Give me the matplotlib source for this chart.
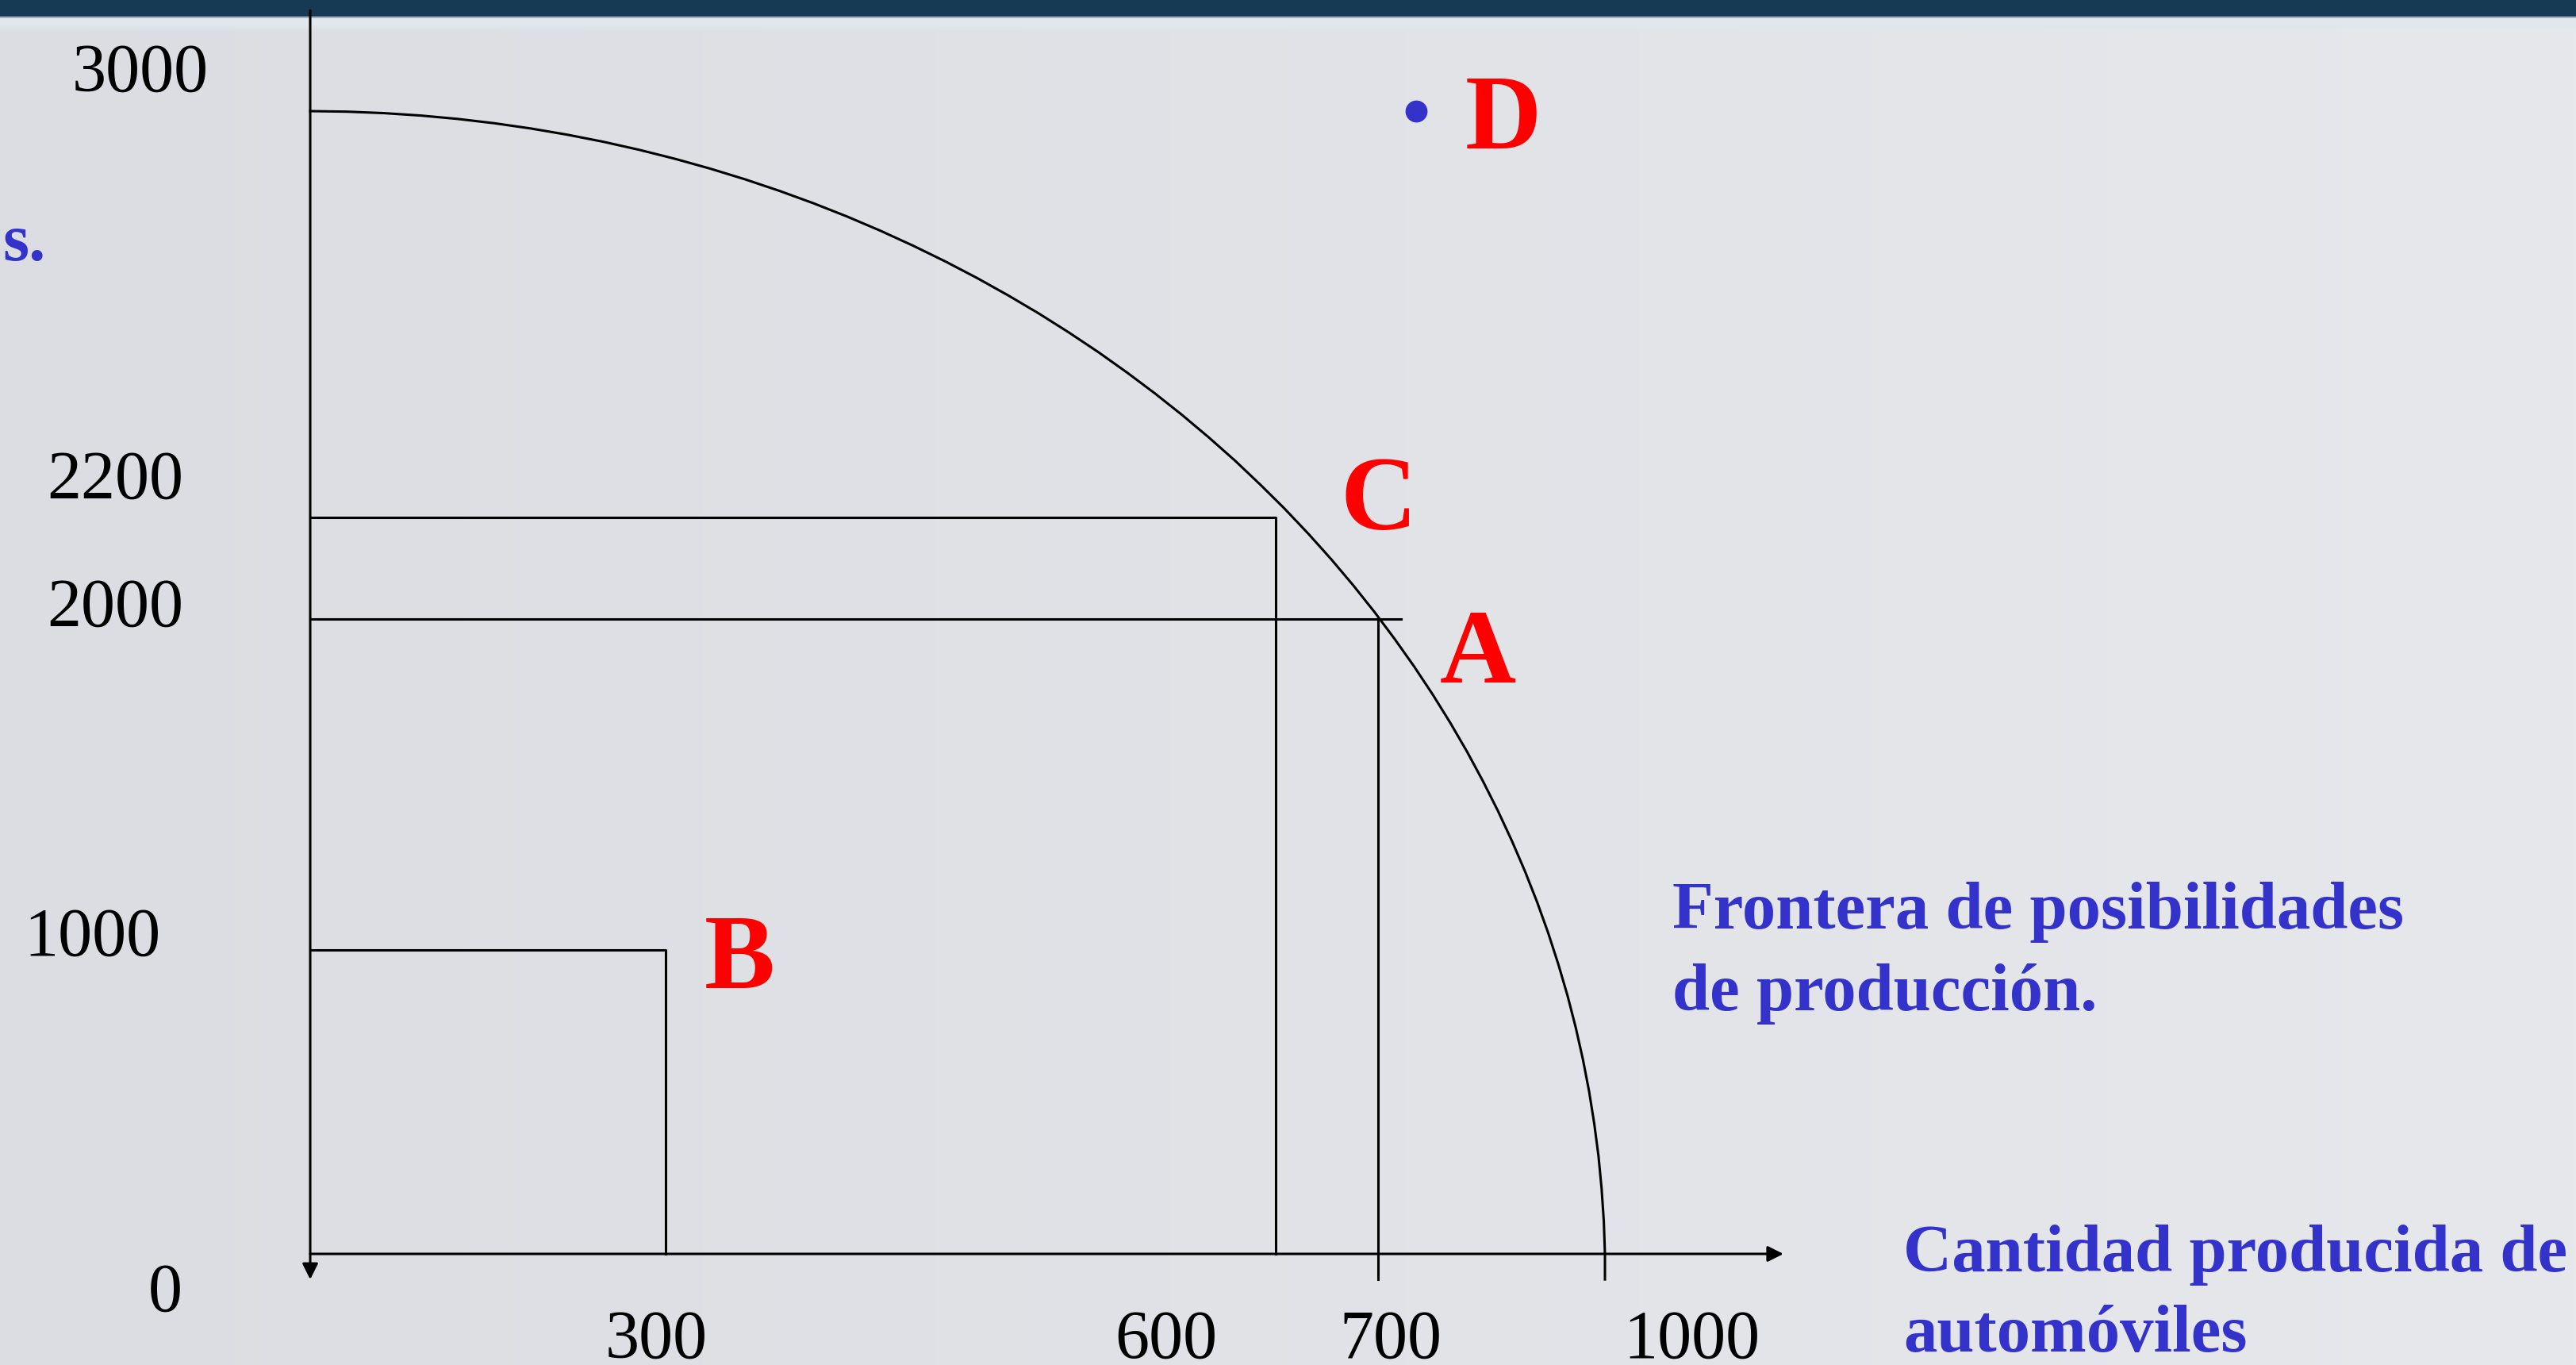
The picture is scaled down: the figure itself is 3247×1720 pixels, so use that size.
import numpy as np
import matplotlib
matplotlib.use("Agg")
import matplotlib.pyplot as plt

# ---------------- data ----------------
frontier_cars = [0.0, 31.2, 62.4, 93.5, 124.5, 155.5, 186.2, 216.9, 247.3, 277.5,
                 304.4, 321.7, 338.9, 355.8, 372.6, 389.2, 405.5, 421.6, 437.5, 453.1,
                 468.4, 483.5, 498.2, 512.7, 526.8, 540.6, 554.1, 567.2, 580.0, 592.3,
                 608.7, 631.8, 654.1, 675.6, 696.3, 721.8, 747.6, 772.2, 795.6, 817.8,
                 838.7, 858.5, 877.0, 894.3, 910.3, 925.0, 938.4, 950.6, 961.4, 970.9,
                 979.1, 985.9, 991.5, 995.6, 998.5, 1000.0, 1000.0]
frontier_units = [3000.0, 2998.9, 2996.0, 2991.2, 2984.6, 2976.1, 2965.8, 2953.6, 2939.7, 2923.9,
                  2906.3, 2887.0, 2865.9, 2843.2, 2818.7, 2792.5, 2764.7, 2735.2, 2704.1, 2671.5,
                  2637.3, 2601.6, 2564.4, 2525.7, 2485.6, 2444.2, 2401.3, 2357.2, 2311.8, 2265.1,
                  2217.2, 2168.1, 2118.0, 2066.7, 2014.4, 1940.2, 1856.9, 1772.1, 1686.0, 1598.6,
                  1510.0, 1420.3, 1329.4, 1237.6, 1144.8, 1051.1, 952.7, 849.0, 744.6, 639.6,
                  534.0, 427.8, 321.3, 214.4, 107.3, 0.0, -84.0]

point_labels = ["A", "B", "C", "D"]
point_cars = [700, 300, 600, 750]
point_units = [2000, 1000, 2200, 3000]

y_tick_labels = ["3000", "2200", "2000", "1000", "0"]
x_tick_labels = ["300", "600", "700", "1000"]

frontier_label = ["Frontera de posibilidades", "de producción."]
x_axis_label = ["Cantidad producida de", "automóviles"]
y_axis_fragment = "s."

# ---------------- layout / style ----------------
W, H, DPI = 3247, 1720, 100
BLUE = "#3333cc"
RED = "#ff0000"
SERIF = ["Liberation Serif", "DejaVu Serif"]
LW = 2.2

# schematic (non-proportional) axes of the slide: piecewise-linear scale
X_DATA = [-1000, 0, 300, 600, 700, 1000, 3000]
X_PIX = [-1493.3, 0, 448, 1217, 1346, 1632, 3538.7]
Y_DATA = [-1000, 0, 1000, 2000, 2200, 3000, 5000]
Y_PIX = [-383, 0, 383, 800, 928, 1440, 2720]


def fx(v):
    return np.interp(v, X_DATA, X_PIX)


def ifx(p):
    return np.interp(p, X_PIX, X_DATA)


def fy(v):
    return np.interp(v, Y_DATA, Y_PIX)


def ify(p):
    return np.interp(p, Y_PIX, Y_DATA)


fig = plt.figure(figsize=(W / DPI, H / DPI), dpi=DPI)

# ---------------- slide background ----------------
xs = np.linspace(0, 1, W)
left = np.array([220, 221, 226]) / 255
right = np.array([231, 232, 236]) / 255
row = left[None, :] * (1 - xs[:, None]) + right[None, :] * xs[:, None]
bg = np.repeat(row[None, :, :], H, axis=0)
dark = np.array([22, 57, 84]) / 255
light = np.array([224, 231, 237]) / 255
bg[:20] = dark
for i, t in enumerate([0.3, 0.55, 0.8]):
    bg[20 + i] = dark * (1 - t) + light * t
bg[23:31] = light
for i in range(31, 40):
    t = (i - 31) / 9
    bg[i] = light[None, :] * (1 - t) + row * t
bgax = fig.add_axes([0, 0, 1, 1])
bgax.imshow(bg, aspect="auto", interpolation="nearest", extent=(0, W, H, 0))
bgax.axis("off")

# ---------------- main axes ----------------
ax = fig.add_axes([0, 0, 1, 1])
ax.set_facecolor("none")
ax.set_xscale("function", functions=(fx, ifx))
ax.set_yscale("function", functions=(fy, ify))
ax.set_xlim(ifx(-391), ifx(W - 391))
ax.set_ylim(ify(-(H - 1580)), ify(1580))
ax.axis("off")

# axes with arrows
arrow_kw = dict(arrowstyle="-|>", lw=LW, color="black", mutation_scale=30,
                shrinkA=0, shrinkB=0)
ax.annotate("", xy=(1236, 0), xytext=(0, 0), arrowprops=arrow_kw)
ax.annotate("", xy=(0, -84), xytext=(0, 3198), arrowprops=arrow_kw)

# frontier
ax.plot(frontier_cars, frontier_units, color="black", lw=LW, solid_joinstyle="round")

# guide lines for A, B, C
a_x, b_x, c_x = point_cars[0], point_cars[1], point_cars[2]
a_y, b_y, c_y = point_units[0], point_units[1], point_units[2]
ax.plot([0, b_x, b_x], [b_y, b_y, 0], color="black", lw=LW)
ax.plot([0, c_x, c_x], [c_y, c_y, 0], color="black", lw=LW)
ax.plot([0, 730], [a_y, a_y], color="black", lw=LW)
ax.plot([a_x, a_x], [a_y, -84], color="black", lw=LW)

# point D (outside the frontier)
ax.plot([point_cars[3]], [point_units[3]], "o", ms=20, color=BLUE, mec="none")


def ftext(x, y, s, **kw):
    fig.text(x / W, 1 - y / H, s, **kw)


# tick labels
y_lab_pos = [(177, 115), (145, 628), (145, 789), (116, 1204), (208, 1652)]
for s, (x, y) in zip(y_tick_labels, y_lab_pos):
    ftext(x, y, s, ha="center", va="baseline", fontsize=62, family=SERIF, color="black")
x_lab_pos = [(827, 1711), (1470, 1711), (1753, 1711), (2132, 1711)]
for s, (x, y) in zip(x_tick_labels, x_lab_pos):
    ftext(x, y, s, ha="center", va="baseline", fontsize=62, family=SERIF, color="black")

# red point letters
letter_pos = {"A": (1863, 860), "B": (932, 1245), "C": (1738, 667), "D": (1895, 187)}
for s in point_labels:
    x, y = letter_pos[s]
    ftext(x, y, s, ha="center", va="baseline", fontsize=96, family=SERIF,
          fontweight="bold", color=RED)

# blue texts
for i, s in enumerate(frontier_label):
    ftext(2108, 1170 + 103 * i, s, ha="left", va="baseline", fontsize=61,
          family=SERIF, fontweight="bold", color=BLUE)
for i, s in enumerate(x_axis_label):
    ftext(2399, 1602 + 101 * i, s, ha="left", va="baseline", fontsize=61,
          family=SERIF, fontweight="bold", color=BLUE)
ftext(58, 328, y_axis_fragment, ha="right", va="baseline", fontsize=61,
      family=SERIF, fontweight="bold", color=BLUE)

fig.savefig("out.png", dpi=DPI)
